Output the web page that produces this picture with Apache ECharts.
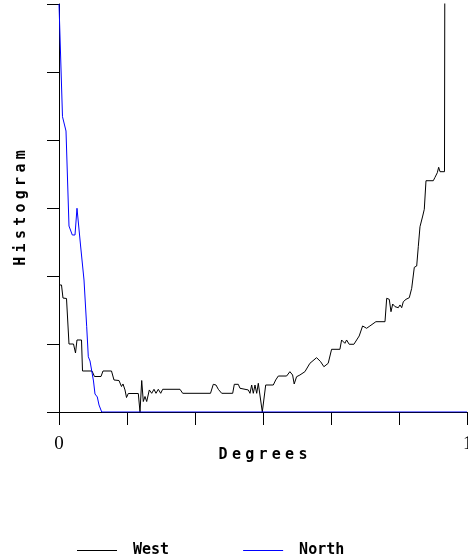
<!DOCTYPE html>
<html>
<head>
<meta charset="utf-8">
<script src="https://cdn.jsdelivr.net/npm/echarts@6/dist/echarts.min.js"></script>
<style>html,body{margin:0;padding:0;background:#fff}#c{width:468px;height:560px}</style>
</head>
<body>
<div id="c"></div>
<script>
const seriesNames = ['West', 'North'];
const seriesColors = ['#000000', '#0000ff'];
const xTickLabels = {0: '0', 180: '180'};
const westDeg = [0,1.1,1.76,3.31,4.41,6.4,7.28,7.94,9.93,10.37,14.56,15.66,18.53,19.41,23.16,24.26,26.47,27.57,28.24,29.12,29.78,30.57,34.99,35.74,36.49,37.19,37.94,38.69,39.84,40.9,41.91,42.79,43.81,44.87,45.75,53.38,54.57,66.84,68.07,69.26,70.28,71.78,76.63,77.34,79.1,79.85,83.51,84.26,85.0,85.72,86.47,87.22,87.93,88.81,89.69,90.44,91.19,94.54,95.6,96.75,100.41,101.87,103.06,103.76,104.82,106.28,108.49,110.69,111.57,113.65,115.41,116.87,118.76,120.26,123.93,124.68,126.13,126.88,128.03,130.1,132.44,133.94,135.71,137.16,139.81,143.82,144.57,145.71,146.47,147.22,148.24,149.69,150.44,151.19,151.9,153.09,154.54,155.6,156.75,157.81,158.51,159.26,160.46,161.16,161.91,165.13,165.88,166.9,167.5,168.09,170.07,170.29];
const westVal = [18.68,18.68,16.76,16.69,10.0,10.0,8.68,10.59,10.59,6.03,6.03,5.22,5.22,6.03,6.03,4.71,4.63,3.75,4.12,3.24,2.13,2.72,2.72,0,4.63,1.54,2.28,1.54,3.24,2.75,3.34,2.75,3.34,2.75,3.34,3.34,2.75,2.75,4.07,3.97,3.34,2.75,2.75,4.07,4.07,3.49,3.24,2.75,3.97,2.75,3.97,2.75,4.22,4.22,0,0,3.97,3.97,4.71,5.29,5.29,5.93,5.44,4.12,5.19,5.44,5.93,7.16,7.31,7.99,7.40,6.66,7.16,9.22,9.22,10.59,10.1,10.59,9.96,9.96,11.18,12.65,12.31,12.65,13.28,13.28,16.72,16.57,14.75,15.88,15.49,15.34,15.74,15.34,16.22,16.57,16.81,18.19,21.28,21.47,24.31,27.25,28.82,29.81,34.01,34.01,34.51,35.19,35.99,35.34,35.34,80];
const northDeg = [0,0.88,1.54,2.34,3.09,4.41,5.29,5.87,7.06,7.94,8.6,9.49,10.15,11.03,12.22,12.93,13.68,14.43,15.22,15.88,16.9,17.65,18.84,180];
const northVal = [60,60,43.43,43.34,41.32,27.35,27.25,26.03,26.03,29.96,29.96,24.56,24.56,19.41,12.54,8.13,7.5,7.21,4.56,2.65,2.21,1.03,0,0];

const spaced = s => s.split('').map(ch => '{c|' + ch + '}').join('');
const monoName = {fontFamily: 'DejaVu Sans Mono', fontWeight: 'bold', fontSize: 15, color: '#000',
  rich: {c: {fontFamily: 'DejaVu Sans Mono', fontWeight: 'bold', fontSize: 15, color: '#000', width: 13.3, align: 'center'}}};

const chart = echarts.init(document.getElementById('c'), null, {renderer: 'canvas'});
chart.setOption({
  animation: false,
  backgroundColor: '#fff',
  grid: {left: 59, right: 1, top: 4, bottom: 148, containLabel: false, outerBoundsMode: 'none'},
  legend: {
    data: seriesNames.map((n, i) => ({name: n, itemStyle: {color: seriesColors[i]}})),
    left: 72, top: 538,
    icon: 'rect', itemWidth: 40, itemHeight: 1, itemGap: 74,
    textStyle: {fontFamily: 'DejaVu Sans Mono', fontWeight: 'bold', fontSize: 15, color: '#000', padding: [0, 0, 0, 11]}
  },
  xAxis: {
    type: 'value', min: 0, max: 180, interval: 30,
    name: spaced('Degrees'), nameLocation: 'middle', nameGap: 36, nameMoveOverlap: false, nameTextStyle: monoName,
    axisLine: {lineStyle: {color: '#000', width: 1}},
    axisTick: {show: true, length: 13, lineStyle: {color: '#000'}},
    axisLabel: {
      margin: 23, fontFamily: 'Liberation Serif', fontSize: 19, color: '#000',
      formatter: v => (v === 180 ? '{r|' + xTickLabels[v] + '}' : (xTickLabels[v] !== undefined ? xTickLabels[v] : '')),
      rich: {r: {fontFamily: 'Liberation Serif', fontSize: 19, color: '#000', padding: [0, 0, 0, -4]}},
      showMinLabel: true, showMaxLabel: true, alignMaxLabel: 'left'
    },
    splitLine: {show: false}
  },
  yAxis: {
    type: 'value', min: 0, max: 60, interval: 10,
    name: spaced('Histogram'), nameLocation: 'middle', nameGap: 30, nameRotate: 90, nameTextStyle: monoName,
    axisLine: {show: true, lineStyle: {color: '#000', width: 1}},
    axisTick: {show: true, length: 12, lineStyle: {color: '#000'}},
    axisLabel: {show: false},
    splitLine: {show: false}
  },
  series: seriesNames.map((n, i) => ({
    name: n, type: 'line', symbol: 'none', clip: true,
    itemStyle: {color: seriesColors[i]},
    lineStyle: {color: seriesColors[i], width: 1},
    data: i === 0 ? westDeg.map((d, k) => [d, westVal[k]]) : northDeg.map((d, k) => [d, northVal[k]])
  }))
});
</script>
</body>
</html>
